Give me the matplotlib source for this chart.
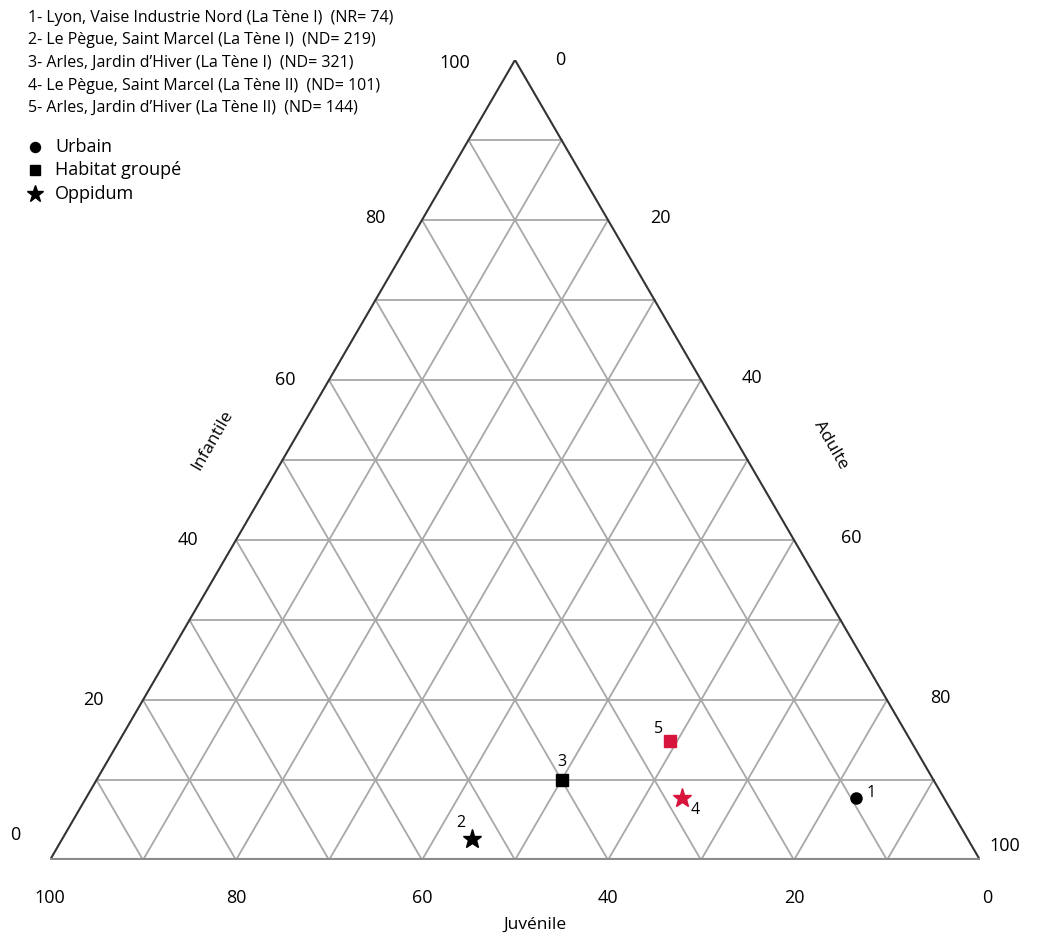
import matplotlib
matplotlib.use("Agg")
import matplotlib.pyplot as plt

plt.rcParams['font.family'] = ['Open Sans', 'DejaVu Sans']

# ternary data (percent): Infantile, Juvénile, Adulte
site_ids = ["1", "2", "3", "4", "5"]
infantile = [7.8, 2.6, 10.0, 7.8, 14.9]
juvenile = [9.4, 53.3, 40.0, 28.1, 25.9]
adulte = [82.8, 44.1, 50.0, 64.1, 59.2]
site_type = ["Urbain", "Oppidum", "Habitat groupé", "Oppidum", "Habitat groupé"]
site_color = ["black", "black", "black", "#d7143c", "#d7143c"]

legend_sites = [
    "1- Lyon, Vaise Industrie Nord (La Tène I)  (NR= 74)",
    "2- Le Pègue, Saint Marcel (La Tène I)  (ND= 219)",
    "3- Arles, Jardin d\u2019Hiver (La Tène I)  (ND= 321)",
    "4- Le Pègue, Saint Marcel (La Tène II)  (ND= 101)",
    "5- Arles, Jardin d\u2019Hiver (La Tène II)  (ND= 144)",
]
type_names = ["Urbain", "Habitat groupé", "Oppidum"]
type_markers = {"Urbain": "o", "Habitat groupé": "s", "Oppidum": "*"}
type_sizes = {"Urbain": 8, "Habitat groupé": 8, "Oppidum": 14}
tick_values = [0, 20, 40, 60, 80, 100]

W, H = 1045, 934
fig = plt.figure(figsize=(W / 100, H / 100), dpi=100)
# axes = the triangle's bounding box (ternary units 0..1)
ax = fig.add_axes([50 / W, (H - 860) / H, 930 / W, 800 / H])
ax.set_xlim(0, 1)
ax.set_ylim(0, 1)
ax.axis("off")

px = 1 / 930.0  # one pixel in x units
py = 1 / 800.0  # one pixel in y units


def tern(i, a):
    # fractions -> cartesian (left corner = Juvénile, right = Adulte, top = Infantile)
    return a + i / 2.0, i


# grid lines every 10 %
for k in range(1, 10):
    c = k / 10.0
    ax.plot([c / 2, 1 - c / 2], [c, c], color="#a8a8a8", lw=1.3, zorder=1)
    ax.plot([c, c + (1 - c) / 2], [0, 1 - c], color="#a8a8a8", lw=1.3, zorder=1)
    ax.plot([1 - c, (1 - c) / 2], [0, 1 - c], color="#a8a8a8", lw=1.3, zorder=1)

# triangle outline
ax.plot([0, 0.5, 1], [0, 1, 0], color="#333333", lw=1.5, zorder=2)
ax.plot([0, 1], [0, 0], color="#8c8c8c", lw=3, zorder=2)

# tick labels
left_off = [(-35, 25), (-50, 0), (-48, 0), (-44, 0), (-47, 2), (-60, -3)]
right_off = [(45, 0), (52, 2), (51, 2), (57, 2), (53, 2), (25, 14)]
for v, lo, ro in zip(tick_values, left_off, right_off):
    f = v / 100.0
    # Infantile along the left edge
    x, y = tern(f, 0)
    ax.text(x + lo[0] * px, y + lo[1] * py, str(v), fontsize=13, ha="center",
            va="center", clip_on=False)
    # Adulte along the right edge
    x, y = tern(1 - f, f)
    ax.text(x + ro[0] * px, y + ro[1] * py, str(v), fontsize=13, ha="center",
            va="center", clip_on=False)
    # Juvénile along the bottom
    x, y = tern(0, 1 - f)
    bx = x + (7 * px if v == 0 else 0)
    ax.text(bx, -38 * py, str(v), fontsize=13, ha="center", va="center",
            clip_on=False)

ax.text(0.175, 0.525, "Infantile", rotation=60, fontsize=12.5, ha="center",
        va="center")
ax.text(0.839, 0.519, "Adulte", rotation=-60, fontsize=12.5, ha="center",
        va="center")
ax.text(0.5215, -0.081, "Juvénile", fontsize=12.5, ha="center", va="center",
        clip_on=False)

# points
label_off = {"1": (15, 5), "2": (-11, 16), "3": (0, 18), "4": (13, -12), "5": (-11, 12)}
for sid, i, a, t, col in zip(site_ids, infantile, adulte, site_type, site_color):
    x, y = tern(i / 100.0, a / 100.0)
    ax.plot(x, y, marker=type_markers[t], ms=type_sizes[t], color=col,
            ls="none", zorder=5)
    dx, dy = label_off[sid]
    ax.text(x + dx * px, y + dy * py, sid, fontsize=11.5, ha="center",
            va="center", zorder=6)

# site list
for n, s in enumerate(legend_sites):
    fig.text(28 / W, 1 - (18 + n * 22.5) / H, s, fontsize=11.5, ha="left",
             va="center")

# marker legend
for n, t in enumerate(type_names):
    yy = 1 - (147 + n * 23.5) / H
    fig.lines.append(plt.Line2D([35 / W], [yy], marker=type_markers[t],
                                ms=type_sizes[t] * 0.9, color="black",
                                ls="none", transform=fig.transFigure))
    fig.text(55 / W, yy, t, fontsize=13, ha="left", va="center")

fig.savefig("out.png", dpi=100)
